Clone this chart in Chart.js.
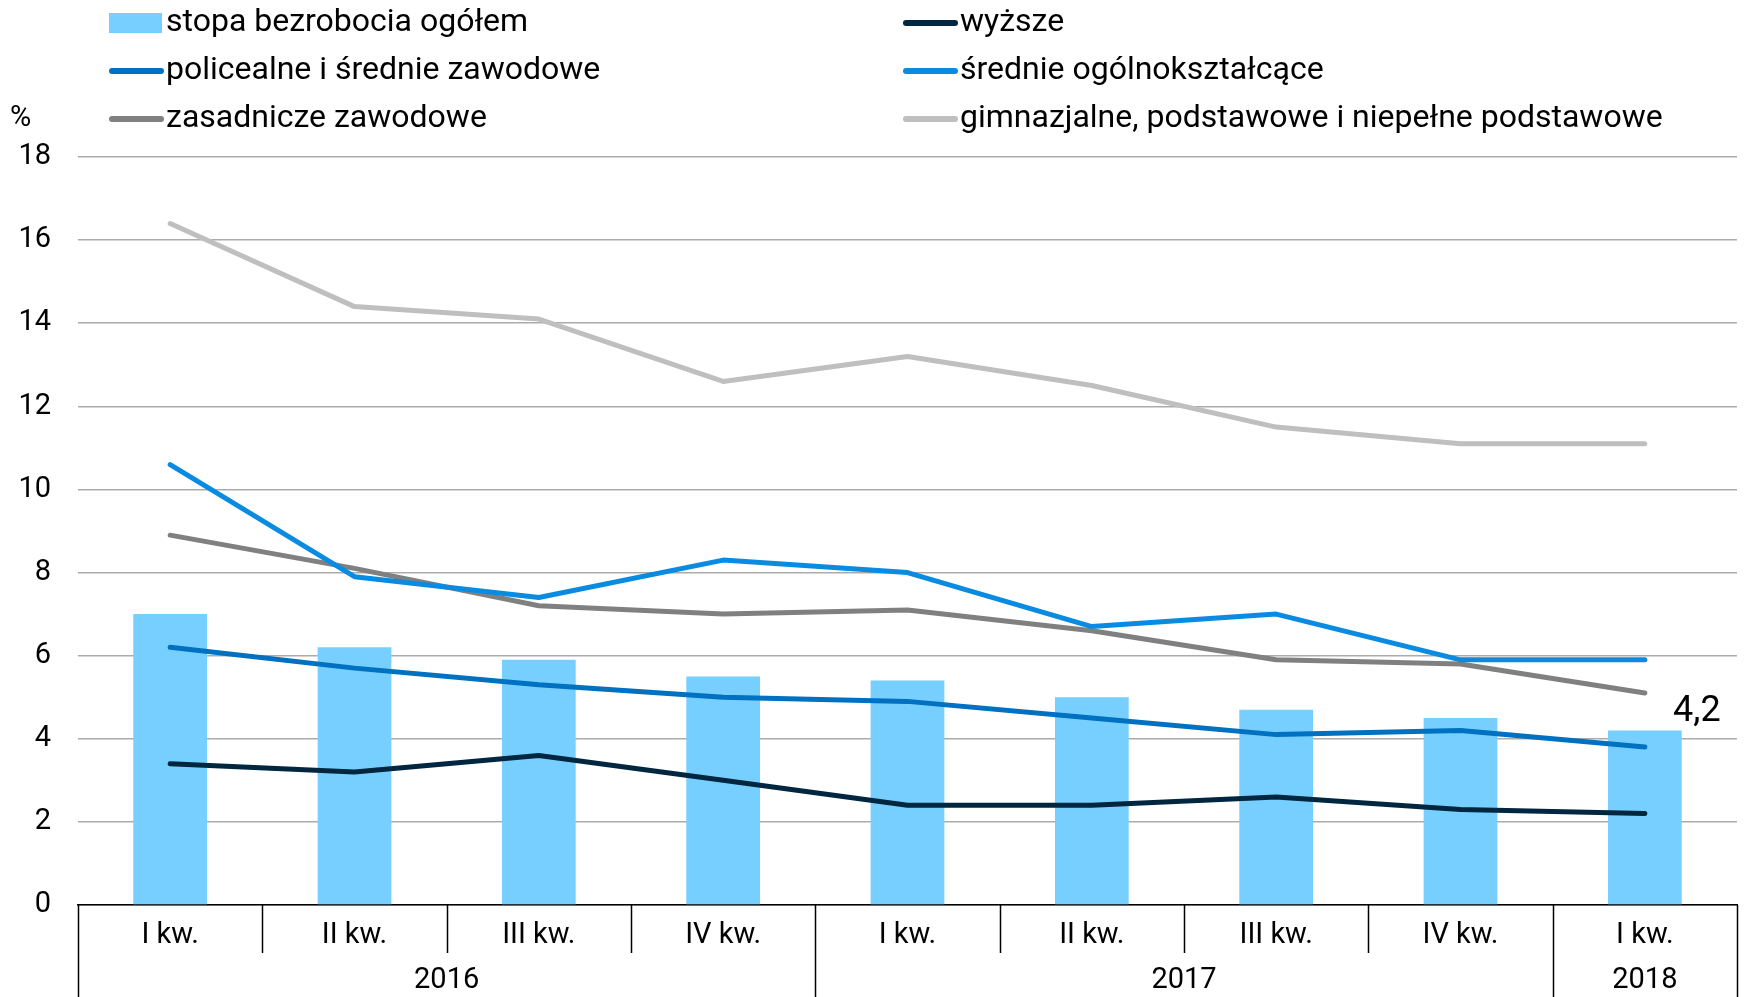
<!DOCTYPE html>
<html>
<head>
<meta charset="utf-8">
<script src="https://cdn.jsdelivr.net/npm/chart.js@4"></script>
<style>
  html, body { margin: 0; padding: 0; background: #fff; }
  #wrap { width: 1746px; height: 997px; position: relative; }
</style>
</head>
<body>
<div id="wrap"><canvas id="chart"></canvas></div>
<script>
const quarters = ['I kw.', 'II kw.', 'III kw.', 'IV kw.', 'I kw.', 'II kw.', 'III kw.', 'IV kw.', 'I kw.']
const years = [
  { label: '2016', from: 0, to: 3 },
  { label: '2017', from: 4, to: 7 },
  { label: '2018', from: 8, to: 8 },
]
const ogolem = [7.0, 6.2, 5.9, 5.5, 5.4, 5.0, 4.7, 4.5, 4.2]
const wyzsze = [3.4, 3.2, 3.6, 3.0, 2.4, 2.4, 2.6, 2.3, 2.2]
const policealne = [6.2, 5.7, 5.3, 5.0, 4.9, 4.5, 4.1, 4.2, 3.8]
const srednieOgolne = [10.6, 7.9, 7.4, 8.3, 8.0, 6.7, 7.0, 5.9, 5.9]
const zasadnicze = [8.9, 8.1, 7.2, 7.0, 7.1, 6.6, 5.9, 5.8, 5.1]
const gimnazjalne = [16.4, 14.4, 14.1, 12.6, 13.2, 12.5, 11.5, 11.1, 11.1]
const yTicks = [0, 2, 4, 6, 8, 10, 12, 14, 16, 18]

const FONT = 'Roboto'
const FS = 29
const LEG_FS = 32

const line = (label, data, color) => ({
  type: 'line',
  label,
  data,
  borderColor: color,
  backgroundColor: color,
  borderWidth: 5,
  borderCapStyle: 'round',
  borderJoinStyle: 'round',
  pointRadius: 0,
  tension: 0,
  fill: false,
})

// legend drawn in two columns, like the original
const legendPlugin = {
  id: 'colLegend',
  afterDraw(chart) {
    const ctx = chart.ctx
    const cols = [109, 903]
    const rows = [23, 71, 119]
    ctx.save()
    ctx.font = `${LEG_FS}px ${FONT}`
    ctx.textBaseline = 'middle'
    chart.data.datasets.forEach((ds, k) => {
      const x = cols[k % 2]
      const y = rows[Math.floor(k / 2)]
      if (ds.type === 'line') {
        ctx.strokeStyle = ds.borderColor
        ctx.lineWidth = 6
        ctx.lineCap = 'round'
        ctx.beginPath()
        ctx.moveTo(x + 3, y)
        ctx.lineTo(x + 52, y)
        ctx.stroke()
      } else {
        ctx.fillStyle = ds.backgroundColor
        ctx.fillRect(x, y - 10, 53, 20)
      }
      ctx.fillStyle = '#000'
      ctx.fillText(ds.label, x + 57, y)
    })
    ctx.font = `${FS}px ${FONT}`
    ctx.fillText('%', 10, 119)
    ctx.restore()
  },
}

// year row, separators and value label of the last bar
const axisPlugin = {
  id: 'yearAxis',
  afterDraw(chart) {
    const ctx = chart.ctx
    const x = chart.scales.x
    const y = chart.scales.y
    const area = chart.chartArea
    const half = (x.getPixelForValue(1) - x.getPixelForValue(0)) / 2
    const bottom = chart.height
    ctx.save()
    ctx.strokeStyle = '#000'
    ctx.lineWidth = 1.5
    // short separators between quarters, full ones between years
    for (let i = 0; i <= quarters.length; i++) {
      const px = Math.round(x.getPixelForValue(i) - half) + 0.5
      const isYear = i === 0 || i === quarters.length || years.some(yr => yr.from === i)
      ctx.beginPath()
      ctx.moveTo(px, area.bottom)
      ctx.lineTo(px, isYear ? bottom : area.bottom + 48)
      ctx.stroke()
    }
    ctx.font = `${FS}px ${FONT}`
    ctx.fillStyle = '#000'
    ctx.textAlign = 'center'
    ctx.textBaseline = 'middle'
    years.forEach(yr => {
      const cx = (x.getPixelForValue(yr.from) + x.getPixelForValue(yr.to)) / 2
      ctx.fillText(yr.label, cx, area.bottom + 76)
    })
    // label of the last bar
    const last = ogolem.length - 1
    ctx.font = `36px ${FONT}`
    ctx.fillText(
      ogolem[last].toFixed(1).replace('.', ','),
      x.getPixelForValue(last) + 52,
      y.getPixelForValue(ogolem[last]) - 18
    )
    ctx.restore()
  },
}

new Chart(document.getElementById('chart'), {
  data: {
    labels: quarters,
    datasets: [
      {
        type: 'bar',
        label: 'stopa bezrobocia ogółem',
        data: ogolem,
        backgroundColor: '#77CFFF',
        barPercentage: 0.4,
        categoryPercentage: 1,
        order: 10,
      },
      line('wyższe', wyzsze, '#002640'),
      line('policealne i średnie zawodowe', policealne, '#0070C0'),
      line('średnie ogólnokształcące', srednieOgolne, '#0A8BE2'),
      line('zasadnicze zawodowe', zasadnicze, '#808080'),
      line('gimnazjalne, podstawowe i niepełne podstawowe', gimnazjalne, '#BFBFBF'),
    ],
  },
  options: {
    responsive: true,
    maintainAspectRatio: false,
    animation: false,
    layout: { padding: { top: 157, right: 9, left: 0, bottom: 0 } },
    plugins: {
      legend: { display: false },
      tooltip: { enabled: false },
    },
    scales: {
      x: {
        grid: { display: false, drawTicks: false },
        border: { display: true, color: '#000', width: 1.5 },
        ticks: {
          color: '#000',
          font: { family: FONT, size: FS },
          padding: 13,
          maxRotation: 0,
        },
        afterFit: (s) => { s.height = 92 },
      },
      y: {
        min: 0,
        max: 18,
        afterBuildTicks: (s) => { s.ticks = yTicks.map(v => ({ value: v })) },
        grid: { color: '#ABABAB', lineWidth: 1.5, drawTicks: false },
        border: { display: false },
        ticks: {
          color: '#000',
          font: { family: FONT, size: FS },
          padding: 27,
        },
        afterFit: (s) => { s.width = 78 },
      },
    },
  },
  plugins: [legendPlugin, axisPlugin],
})
</script>
</body>
</html>
